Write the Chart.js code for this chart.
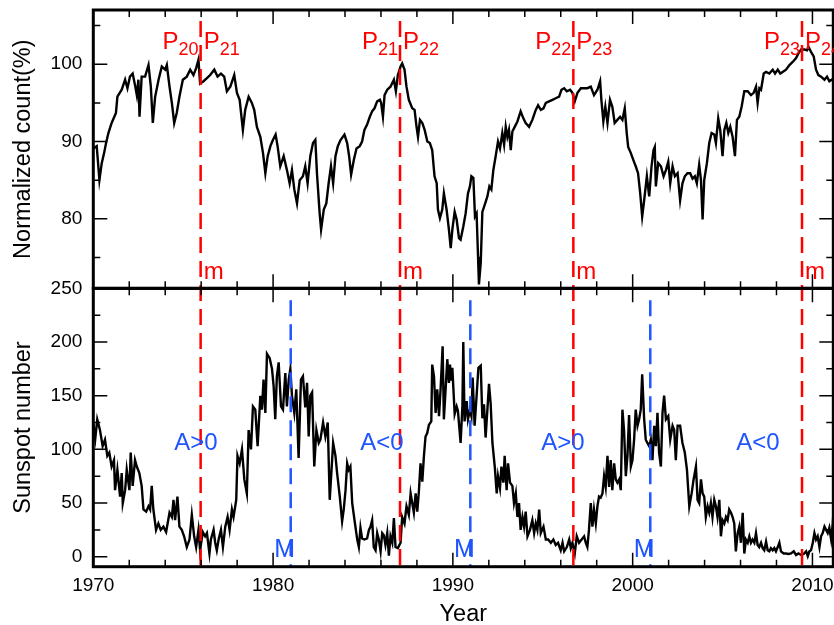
<!doctype html>
<html>
<head>
<meta charset="utf-8">
<script src="https://cdn.jsdelivr.net/npm/chart.js"></script>
<style>
    body {
        margin: 0px;
        background-color: #fff;
    }
    #wrap {
        width: 834px;
        height: 625px;
    }
</style>
</head>
<body>
<div id="wrap"><canvas id="chart" width="834" height="625"></canvas></div>
<script>
// neutron monitor count, normalized (%)
const countYears = [
    1970.00, 1970.19, 1970.34, 1970.47, 1970.60, 1970.71, 1970.84, 1971.02, 1971.26, 1971.34,
    1971.58, 1971.77, 1971.90, 1972.04, 1972.19, 1972.32, 1972.42, 1972.51, 1972.57, 1972.69,
    1972.88, 1973.07, 1973.20, 1973.31, 1973.44, 1973.63, 1973.81, 1974.00, 1974.09, 1974.24,
    1974.37, 1974.50, 1974.64, 1974.79, 1974.98, 1975.20, 1975.39, 1975.57, 1975.72, 1975.85,
    1975.94, 1976.13, 1976.32, 1976.50, 1976.73, 1976.91, 1977.10, 1977.28, 1977.43, 1977.62,
    1977.84, 1977.99, 1978.14, 1978.32, 1978.45, 1978.64, 1978.82, 1978.95, 1979.10, 1979.29,
    1979.44, 1979.57, 1979.70, 1979.85, 1979.99, 1980.14, 1980.25, 1980.40, 1980.59, 1980.77,
    1980.92, 1981.05, 1981.18, 1981.33, 1981.48, 1981.66, 1981.79, 1981.92, 1982.07, 1982.22,
    1982.35, 1982.44, 1982.59, 1982.67, 1982.82, 1982.96, 1983.09, 1983.22, 1983.34, 1983.47,
    1983.60, 1983.75, 1983.97, 1984.12, 1984.23, 1984.34, 1984.49, 1984.64, 1984.82, 1984.95,
    1985.08, 1985.23, 1985.38, 1985.51, 1985.64, 1985.79, 1985.94, 1986.01, 1986.11, 1986.20,
    1986.35, 1986.53, 1986.72, 1986.83, 1986.94, 1987.09, 1987.18, 1987.31, 1987.42, 1987.55,
    1987.74, 1987.87, 1987.98, 1988.06, 1988.17, 1988.30, 1988.43, 1988.58, 1988.72, 1988.85,
    1988.98, 1989.10, 1989.17, 1989.28, 1989.41, 1989.50, 1989.65, 1989.78, 1989.88, 1989.97,
    1990.10, 1990.21, 1990.34, 1990.43, 1990.58, 1990.71, 1990.84, 1990.95, 1991.03, 1991.14,
    1991.23, 1991.32, 1991.40, 1991.45, 1991.55, 1991.64, 1991.77, 1991.92, 1992.03, 1992.14,
    1992.25, 1992.38, 1992.51, 1992.62, 1992.75, 1992.85, 1992.94, 1993.03, 1993.12, 1993.22,
    1993.31, 1993.44, 1993.59, 1993.77, 1993.92, 1994.05, 1994.24, 1994.42, 1994.61, 1994.74,
    1994.89, 1995.04, 1995.17, 1995.35, 1995.54, 1995.72, 1995.91, 1996.04, 1996.19, 1996.34,
    1996.52, 1996.65, 1996.78, 1996.93, 1997.12, 1997.48, 1997.67, 1997.85, 1998.04, 1998.19,
    1998.26, 1998.37, 1998.48, 1998.60, 1998.74, 1998.87, 1999.00, 1999.15, 1999.30, 1999.43,
    1999.56, 1999.67, 1999.75, 1999.90, 2000.04, 2000.17, 2000.30, 2000.42, 2000.53, 2000.64,
    2000.79, 2000.92, 2001.05, 2001.16, 2001.23, 2001.29, 2001.42, 2001.57, 2001.72, 2001.85,
    2001.98, 2002.09, 2002.22, 2002.35, 2002.50, 2002.64, 2002.77, 2002.90, 2003.05, 2003.20,
    2003.33, 2003.46, 2003.57, 2003.70, 2003.80, 2003.89, 2003.98, 2004.13, 2004.26, 2004.39,
    2004.54, 2004.63, 2004.76, 2004.87, 2005.00, 2005.10, 2005.21, 2005.32, 2005.43, 2005.56,
    2005.69, 2005.80, 2005.93, 2006.06, 2006.21, 2006.40, 2006.58, 2006.73, 2006.86, 2006.95,
    2007.05, 2007.14, 2007.29, 2007.42, 2007.60, 2007.79, 2007.92, 2008.07, 2008.21, 2008.34,
    2008.53, 2008.72, 2008.90, 2009.09, 2009.22, 2009.37, 2009.55, 2009.70, 2009.77, 2009.92,
    2010.07, 2010.20, 2010.33, 2010.48, 2010.67, 2010.81, 2010.94, 2011.07, 2011.22
];
const countValues = [
    89.1, 89.4, 85.0, 87.2, 88.5, 89.8, 91.1, 92.4, 93.7, 95.8,
    96.7, 98.0, 96.9, 98.4, 98.8, 97.3, 96.0, 98.0, 93.2, 98.4,
    98.4, 99.9, 97.1, 92.4, 95.8, 98.0, 99.7, 99.3, 99.9, 97.1,
    95.0, 92.4, 93.7, 95.8, 98.0, 98.4, 99.3, 98.6, 99.5, 100.6,
    97.5, 97.8, 98.2, 98.6, 99.3, 98.4, 98.8, 98.4, 96.5, 97.1,
    98.6, 96.3, 95.4, 91.5, 94.1, 95.8, 95.0, 94.1, 91.9, 90.6,
    88.5, 85.9, 88.1, 89.4, 90.2, 90.9, 89.4, 86.8, 88.1, 86.3,
    84.6, 86.3, 83.8, 82.0, 85.0, 85.5, 86.8, 84.6, 88.1, 89.8,
    90.2, 85.9, 80.7, 78.6, 81.2, 82.0, 84.6, 86.8, 84.6, 88.1,
    89.4, 90.2, 90.9, 89.8, 88.1, 85.7, 87.6, 89.1, 89.4, 90.0,
    91.5, 92.2, 93.2, 93.9, 94.3, 95.2, 95.4, 95.0, 93.2, 96.0,
    96.7, 97.1, 98.0, 96.5, 98.6, 99.7, 100.1, 99.3, 97.1, 95.4,
    94.3, 94.1, 91.9, 90.6, 92.8, 92.4, 91.5, 90.0, 89.8, 88.9,
    85.5, 84.6, 81.2, 80.1, 81.2, 83.3, 81.2, 78.6, 76.2, 78.6,
    80.9, 79.9, 77.5, 77.3, 79.0, 80.7, 83.3, 84.2, 85.5, 85.3,
    80.3, 80.7, 75.1, 71.5, 74.3, 80.9, 81.8, 82.9, 84.2, 83.8,
    86.3, 88.1, 90.0, 89.1, 91.1, 89.6, 91.9, 90.6, 91.5, 88.9,
    91.3, 91.9, 92.6, 93.9, 93.0, 92.4, 91.9, 92.8, 94.1, 94.7,
    94.1, 94.3, 95.0, 95.2, 95.4, 95.6, 95.8, 96.7, 96.9, 96.5,
    96.7, 96.3, 95.2, 96.3, 96.9, 96.9, 97.1, 96.0, 96.7, 97.8,
    95.4, 92.6, 94.5, 92.4, 95.4, 94.5, 92.4, 92.8, 93.2, 92.8,
    94.3, 91.1, 89.3, 88.5, 87.6, 86.8, 85.9, 83.3, 80.3, 82.4,
    85.5, 82.9, 86.8, 88.9, 89.3, 84.2, 87.2, 86.8, 85.5, 86.3,
    87.4, 84.6, 86.8, 85.5, 85.9, 82.4, 84.6, 85.5, 85.9, 85.9,
    85.2, 85.5, 84.6, 87.0, 85.0, 79.9, 85.0, 87.2, 89.8, 91.1,
    90.9, 89.8, 93.0, 91.5, 88.1, 91.5, 92.4, 91.1, 91.9, 90.6,
    88.1, 92.8, 93.2, 94.5, 96.5, 96.5, 96.0, 96.3, 97.1, 95.0,
    96.9, 96.7, 98.8, 99.0, 98.8, 99.3, 98.8, 99.3, 98.8, 99.0,
    99.3, 99.9, 100.3, 100.8, 101.4, 101.9, 101.9, 101.8, 102.3, 101.6,
    101.0, 99.3, 98.6, 98.4, 98.0, 98.4, 97.8, 98.0, 97.8
];

// monthly sunspot number
const sunspotYears = [
    1970.00, 1970.11, 1970.22, 1970.37, 1970.52, 1970.65, 1970.78, 1970.89, 1971.02, 1971.15,
    1971.21, 1971.34, 1971.49, 1971.58, 1971.64, 1971.77, 1971.86, 1972.01, 1972.08, 1972.19,
    1972.32, 1972.42, 1972.56, 1972.69, 1972.79, 1972.94, 1973.07, 1973.16, 1973.25, 1973.34,
    1973.49, 1973.62, 1973.75, 1973.90, 1974.05, 1974.24, 1974.37, 1974.46, 1974.55, 1974.68,
    1974.79, 1974.92, 1975.05, 1975.20, 1975.35, 1975.48, 1975.61, 1975.72, 1975.85, 1975.94,
    1976.09, 1976.22, 1976.32, 1976.46, 1976.54, 1976.69, 1976.78, 1976.87, 1976.97, 1977.10,
    1977.21, 1977.34, 1977.47, 1977.58, 1977.71, 1977.80, 1977.95, 1978.02, 1978.14, 1978.27,
    1978.40, 1978.54, 1978.64, 1978.77, 1978.88, 1979.01, 1979.14, 1979.29, 1979.38, 1979.47,
    1979.57, 1979.66, 1979.81, 1979.94, 1980.03, 1980.12, 1980.21, 1980.31, 1980.44, 1980.55,
    1980.68, 1980.77, 1980.87, 1980.96, 1981.05, 1981.18, 1981.29, 1981.42, 1981.55, 1981.66,
    1981.79, 1981.89, 1981.98, 1982.07, 1982.17, 1982.29, 1982.41, 1982.54, 1982.63, 1982.78,
    1982.91, 1983.04, 1983.15, 1983.34, 1983.47, 1983.56, 1983.71, 1983.84, 1983.93, 1984.03,
    1984.12, 1984.21, 1984.30, 1984.40, 1984.53, 1984.68, 1984.77, 1984.86, 1984.95, 1985.08,
    1985.23, 1985.33, 1985.42, 1985.51, 1985.60, 1985.70, 1985.79, 1985.88, 1985.98, 1986.07,
    1986.16, 1986.25, 1986.35, 1986.44, 1986.53, 1986.63, 1986.72, 1986.81, 1986.94, 1987.09,
    1987.18, 1987.31, 1987.42, 1987.55, 1987.65, 1987.74, 1987.83, 1987.93, 1988.02, 1988.11,
    1988.20, 1988.30, 1988.39, 1988.48, 1988.57, 1988.67, 1988.80, 1988.85, 1988.95, 1989.04,
    1989.13, 1989.23, 1989.32, 1989.43, 1989.50, 1989.60, 1989.69, 1989.78, 1989.84, 1989.91,
    1989.97, 1990.10, 1990.21, 1990.28, 1990.43, 1990.53, 1990.58, 1990.65, 1990.77, 1990.84,
    1990.95, 1991.03, 1991.10, 1991.21, 1991.32, 1991.42, 1991.55, 1991.64, 1991.73, 1991.82,
    1991.92, 1992.01, 1992.10, 1992.20, 1992.33, 1992.44, 1992.51, 1992.62, 1992.70, 1992.81,
    1992.88, 1992.99, 1993.07, 1993.18, 1993.31, 1993.40, 1993.50, 1993.59, 1993.68, 1993.77,
    1993.87, 1993.96, 1994.05, 1994.15, 1994.29, 1994.42, 1994.52, 1994.61, 1994.70, 1994.80,
    1994.89, 1995.04, 1995.17, 1995.30, 1995.45, 1995.59, 1995.72, 1995.85, 1996.00, 1996.10,
    1996.19, 1996.34, 1996.47, 1996.56, 1996.65, 1996.78, 1996.89, 1997.02, 1997.30, 1997.39,
    1997.48, 1997.57, 1997.67, 1997.76, 1997.85, 1997.95, 1998.04, 1998.13, 1998.22, 1998.32,
    1998.41, 1998.50, 1998.60, 1998.69, 1998.78, 1998.87, 1998.97, 1999.06, 1999.15, 1999.25,
    1999.34, 1999.43, 1999.52, 1999.62, 1999.71, 1999.80, 1999.90, 1999.99, 2000.08, 2000.17,
    2000.27, 2000.36, 2000.45, 2000.53, 2000.64, 2000.73, 2000.82, 2000.92, 2001.01, 2001.10,
    2001.20, 2001.29, 2001.38, 2001.47, 2001.57, 2001.66, 2001.75, 2001.85, 2001.98, 2002.09,
    2002.22, 2002.31, 2002.40, 2002.50, 2002.64, 2002.77, 2002.90, 2003.02, 2003.15, 2003.28,
    2003.39, 2003.52, 2003.61, 2003.70, 2003.80, 2003.89, 2003.98, 2004.07, 2004.17, 2004.26,
    2004.35, 2004.44, 2004.54, 2004.63, 2004.72, 2004.82, 2004.91, 2005.00, 2005.10, 2005.19,
    2005.28, 2005.37, 2005.47, 2005.56, 2005.65, 2005.74, 2005.84, 2005.93, 2006.02, 2006.12,
    2006.21, 2006.30, 2006.40, 2006.49, 2006.58, 2006.67, 2006.77, 2006.86, 2006.95, 2007.04,
    2007.14, 2007.23, 2007.32, 2007.42, 2007.51, 2007.60, 2007.69, 2007.79, 2007.88, 2007.97,
    2008.07, 2008.16, 2008.25, 2008.40, 2008.53, 2008.66, 2008.81, 2008.96, 2009.09, 2009.22,
    2009.37, 2009.51, 2009.65, 2009.74, 2009.83, 2009.92, 2010.02, 2010.11, 2010.20, 2010.29,
    2010.39, 2010.48, 2010.57, 2010.67, 2010.76, 2010.85, 2010.94, 2011.04, 2011.13, 2011.22
];
const sunspotValues = [
    124, 110, 128, 118, 103, 109, 94, 97, 84, 90,
    62, 81, 56, 78, 50, 62, 81, 62, 97, 66,
    90, 84, 78, 66, 44, 42, 47, 44, 66, 44,
    25, 31, 25, 28, 23, 41, 37, 53, 34, 56,
    28, 25, 19, 9, 16, 39, 19, 9, 25, 6,
    23, 19, 22, 3, 16, 25, 13, 6, 16, 25,
    9, 28, 37, 25, 44, 37, 53, 94, 87, 100,
    72, 59, 118, 100, 140, 137, 103, 150, 137, 165,
    134, 189, 185, 175, 159, 128, 168, 181, 140, 137,
    171, 140, 165, 175, 150, 134, 156, 92, 165, 168,
    139, 162, 112, 150, 153, 84, 118, 106, 109, 125,
    112, 125, 53, 106, 94, 78, 56, 33, 44, 62,
    87, 81, 84, 50, 34, 16, 9, 27, 17, 16,
    17, 25, 28, 34, 9, 6, 22, 16, 5, 22,
    20, 11, 22, 1, 19, 13, 36, 9, 8, 13,
    37, 31, 47, 39, 59, 50, 41, 59, 42, 61,
    87, 70, 94, 112, 115, 123, 126, 179, 168, 134,
    156, 131, 157, 196, 128, 157, 184, 162, 179, 164,
    176, 133, 140, 136, 106, 140, 200, 126, 145, 128,
    137, 131, 167, 122, 150, 176, 178, 129, 142, 111,
    137, 161, 143, 106, 84, 59, 75, 64, 84, 69,
    94, 62, 87, 69, 66, 50, 59, 37, 50, 25,
    37, 28, 42, 19, 25, 34, 22, 31, 25, 44,
    22, 28, 16, 16, 13, 16, 11, 13, 6, 13,
    5, 9, 16, 8, 13, 3, 19, 13, 19, 13,
    9, 25, 50, 28, 44, 31, 47, 56, 55, 59,
    75, 65, 94, 65, 90, 62, 87, 72, 69, 72,
    62, 137, 118, 75, 94, 132, 84, 90, 109, 137,
    122, 128, 137, 170, 128, 109, 106, 103, 109, 90,
    122, 103, 134, 97, 84, 134, 150, 128, 131, 109,
    122, 118, 90, 122, 122, 106, 97, 81, 47, 59,
    72, 84, 53, 50, 72, 59, 56, 37, 47, 41,
    50, 37, 53, 47, 37, 53, 19, 34, 31, 37,
    34, 44, 41, 37, 31, 5, 22, 28, 13, 41,
    3, 16, 13, 19, 13, 16, 13, 22, 11, 9,
    13, 8, 6, 14, 6, 5, 8, 6, 8, 5,
    9, 13, 5, 3, 3, 2.5, 3, 5, 1.6, 3,
    1.6, 2.5, 5, 0.5, 5, 6, 13, 22, 16, 19,
    9, 19, 22, 28, 25, 22, 27, 16, 31, 56
];

// axis ticks
const yearTicks = [1970, 1980, 1990, 2000, 2010];
const countTicks = [80, 90, 100];
const sunspotTicks = [0, 50, 100, 150, 200, 250];

// solar polarity reversal (red), solar maximum (blue), labels
const reversalYears = [1975.97, 1987.06, 1996.70, 2009.42];
const peakLabels = [['20', '21'], ['21', '22'], ['22', '23'], ['23', '24']];
const maximumYears = [1980.98, 1990.97, 2000.98];
const polarityLabels = ['A>0', 'A<0', 'A>0', 'A<0'];
const polarityYears = [1975.71, 1986.06, 1996.12, 2006.97];

const FONT = '"Liberation Sans", Arial, Helvetica, sans-serif';
const RED = '#ff0000';
const BLUE = '#1f55ff';

Chart.defaults.font.family = FONT;
Chart.defaults.color = '#000';

function drawSub(ctx, main, sub, x, y, alignRight) {
    ctx.font = '24px ' + FONT;
    const w1 = ctx.measureText(main).width;
    ctx.font = '18px ' + FONT;
    const w2 = ctx.measureText(sub).width;
    const x0 = alignRight ? x - w1 - w2 : x;
    ctx.font = '24px ' + FONT;
    ctx.fillText(main, x0, y);
    ctx.font = '18px ' + FONT;
    ctx.fillText(sub, x0 + w1, y + 6);
}

function tickRange(from, to, step) {
    const out = [];
    for (let v = from; v <= to + 1e-9; v += step) out.push(v);
    return out;
}

// keep the panels where the picture has them, no extra room for edge labels
function fixY(s) {
    s.width = 93.3;
    s.paddingTop = 0;
    s.paddingBottom = 0;
}

const decorations = {
    id: 'decorations',
    afterDatasetsDraw(chart) {
        const ctx = chart.ctx;
        const x = chart.scales.x;
        const yTop = chart.scales.yTop;
        const yBot = chart.scales.yBot;
        const left = x.left, right = x.right;

        ctx.save();

        // dashed vertical lines
        ctx.lineWidth = 2.5;
        ctx.setLineDash([16, 8]);
        ctx.strokeStyle = RED;
        reversalYears.forEach(yr => {
            const px = x.getPixelForValue(yr);
            ctx.beginPath();
            ctx.moveTo(px, yTop.getPixelForValue(105.6));
            ctx.lineTo(px, yBot.bottom);
            ctx.stroke();
        });
        ctx.strokeStyle = BLUE;
        maximumYears.forEach(yr => {
            const px = x.getPixelForValue(yr);
            ctx.beginPath();
            ctx.moveTo(px, yBot.getPixelForValue(239));
            ctx.lineTo(px, yBot.bottom);
            ctx.stroke();
        });
        ctx.setLineDash([]);

        // tick marks on every side of both panels
        ctx.strokeStyle = '#000';
        ctx.lineWidth = 1.5;
        const panels = [yTop, yBot];
        ctx.beginPath();
        tickRange(1970, 2010, 2).forEach(yr => {
            const px = x.getPixelForValue(yr);
            const len = yr % 10 === 0 ? 14 : 7;
            panels.forEach(p => {
                ctx.moveTo(px, p.top); ctx.lineTo(px, p.top + len);
                ctx.moveTo(px, p.bottom); ctx.lineTo(px, p.bottom - len);
            });
        });
        tickRange(75, 105, 5).forEach(v => {
            const py = yTop.getPixelForValue(v);
            const len = v % 10 === 0 ? 14 : 7;
            ctx.moveTo(left, py); ctx.lineTo(left + len, py);
            ctx.moveTo(right, py); ctx.lineTo(right - len, py);
        });
        tickRange(0, 225, 25).forEach(v => {
            const py = yBot.getPixelForValue(v);
            const len = v % 50 === 0 ? 14 : 7;
            ctx.moveTo(left, py); ctx.lineTo(left + len, py);
            ctx.moveTo(right, py); ctx.lineTo(right - len, py);
        });
        ctx.stroke();

        // panel frames
        ctx.lineWidth = 3;
        panels.forEach(p => ctx.strokeRect(left, p.top, right - left, p.bottom - p.top));

        // labels
        ctx.textBaseline = 'alphabetic';
        ctx.textAlign = 'left';
        ctx.fillStyle = RED;
        reversalYears.forEach((yr, i) => {
            const px = x.getPixelForValue(yr);
            const base = yTop.top + 39;
            drawSub(ctx, 'P', peakLabels[i][0], px - 2, base, true);
            drawSub(ctx, 'P', peakLabels[i][1], px + 3, base, false);
            ctx.font = '24px ' + FONT;
            ctx.fillText('m', px + 3, yTop.bottom - 9);
        });

        ctx.fillStyle = BLUE;
        ctx.font = '24px ' + FONT;
        ctx.textAlign = 'center';
        polarityYears.forEach((yr, i) => {
            ctx.fillText(polarityLabels[i], x.getPixelForValue(yr), yBot.getPixelForValue(99));
        });
        ctx.font = '25px ' + FONT;
        maximumYears.forEach(yr => {
            ctx.fillText('M', x.getPixelForValue(yr) - 6, yBot.getPixelForValue(0));
        });

        ctx.restore();
    }
};

new Chart(document.getElementById('chart'), {
    type: 'line',
    data: {
        datasets: [
            {
                data: countYears.map((yr, i) => ({ x: yr, y: countValues[i] })),
                xAxisID: 'x',
                yAxisID: 'yTop',
                borderColor: '#000',
                borderWidth: 2.4,
                pointRadius: 0,
                tension: 0
            },
            {
                data: sunspotYears.map((yr, i) => ({ x: yr, y: sunspotValues[i] })),
                xAxisID: 'x',
                yAxisID: 'yBot',
                borderColor: '#000',
                borderWidth: 2.4,
                pointRadius: 0,
                tension: 0
            }
        ]
    },
    options: {
        responsive: false,
        animation: false,
        devicePixelRatio: 1,
        layout: { padding: { top: 10, right: 0.7, left: 0, bottom: 0 } },
        plugins: { legend: { display: false }, tooltip: { enabled: false } },
        scales: {
            x: {
                type: 'linear',
                min: 1970,
                max: 2011.16,
                grid: { display: false, drawTicks: false },
                border: { display: false },
                ticks: { padding: 8, font: { size: 19 }, callback: v => String(v) },
                afterBuildTicks: s => { s.ticks = yearTicks.map(v => ({ value: v })); },
                afterFit: s => { s.height = 58.3; s.paddingLeft = 0; s.paddingRight = 0; },
                title: { display: true, text: 'Year', font: { size: 23.5, lineHeight: 0.85 }, padding: 0 }
            },
            yBot: {
                type: 'linear',
                position: 'left',
                stack: 'panels',
                stackWeight: 1,
                min: -9.3,
                max: 250,
                grid: { display: false, drawTicks: false },
                border: { display: false },
                ticks: { padding: 11, font: { size: 19 }, callback: v => String(v) },
                afterBuildTicks: s => { s.ticks = sunspotTicks.map(v => ({ value: v })); },
                afterFit: fixY,
                title: { display: true, text: 'Sunspot number', font: { size: 23.5 }, padding: { top: 9, bottom: 0 } }
            },
            yTop: {
                type: 'linear',
                position: 'left',
                stack: 'panels',
                stackWeight: 1,
                min: 71.0,
                max: 107.02,
                grid: { display: false, drawTicks: false },
                border: { display: false },
                ticks: { padding: 11, font: { size: 19 }, callback: v => String(v) },
                afterBuildTicks: s => { s.ticks = countTicks.map(v => ({ value: v })); },
                afterFit: fixY,
                title: { display: true, text: 'Normalized count(%)', font: { size: 23.5 }, padding: { top: 9, bottom: 0 } }
            }
        }
    },
    plugins: [decorations]
});
</script>
</body>
</html>
